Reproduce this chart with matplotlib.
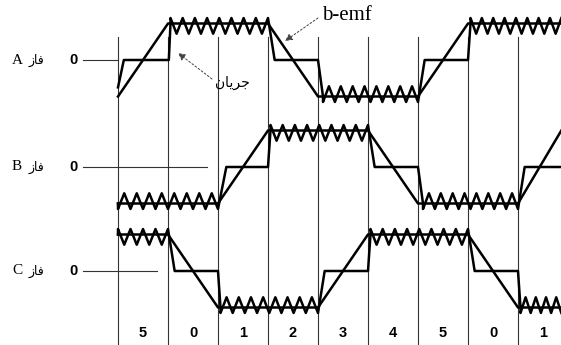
import numpy as np
import matplotlib.pyplot as plt

# electrical angle (deg) of each breakpoint, level in units of the plateau height
emf_a_ang = [0, 60, 180, 240, 360, 420, 532]
emf_a_lev = [-1, 1, 1, -1, -1, 1, 1]
emf_b_ang = [0, 120, 180, 300, 360, 480, 532]
emf_b_lev = [-1, -1, 1, 1, -1, -1, 1]
emf_c_ang = [0, 60, 120, 240, 300, 420, 480, 532]
emf_c_lev = [1, 1, -1, -1, 1, 1, -1, -1]

cur_a_ang = [0, 7, 61, 63, 180, 188, 240, 246, 360, 368, 420, 423, 532]
cur_a_lev = [-0.75, 0, 0, 1, 1, 0, 0, -1, -1, 0, 0, 1, 1]
cur_b_ang = [0, 120, 130, 180, 183, 300, 308, 360, 366, 480, 488, 532]
cur_b_lev = [-1, -1, 0, 0, 1, 1, 0, 0, -1, -1, 0, 0]
cur_c_ang = [0, 60, 68, 120, 123, 240, 248, 300, 303, 420, 428, 480, 483, 532]
cur_c_lev = [1, 1, 0, 0, -1, -1, 0, 0, 1, 1, 0, 0, -1, -1]

sectors = ['5', '0', '1', '2', '3', '4', '5', '0', '1']
sector_edges = [0, 60, 120, 180, 240, 300, 360, 420, 480]

# ripple of the chopped current on the flat parts
rip_out = 0.15
rip_in = 0.28
rip_step = 7.5

# vertical placement (rows from the top) and height of each trace
zero_a, zero_b, zero_c = 60, 167, 271
amp = 36.5


def with_ripple(ang, lev):
    xs, ys = [ang[0]], [lev[0]]
    for i in range(1, len(ang)):
        a, b, L = ang[i-1], ang[i], lev[i]
        if lev[i-1] == L and abs(L) == 1:
            n = int(round((b - a) / rip_step))
            n += n % 2
            pts = np.linspace(a, b, n + 1)
            for k, p in enumerate(pts):
                xs.append(p)
                ys.append(L * (1 + rip_out) if k % 2 == 0 else L * (1 - rip_in))
        else:
            xs.append(b)
            ys.append(L)
    return np.array(xs), np.array(ys)


def px(x):
    # horizontal pixel position -> electrical angle
    return (x - 118) * 1.2


fig = plt.figure(figsize=(5.61, 3.45), dpi=100)
ax = fig.add_axes([0, 0, 1, 1])
ax.set_xlim(px(0), px(561))
ax.set_ylim(345, 0)
ax.axis('off')

for e in sector_edges:
    ax.plot([e, e], [37, 345], color='#333333', lw=0.8)

for z, ang, lev, cang, clev in [(zero_a, emf_a_ang, emf_a_lev, cur_a_ang, cur_a_lev),
                                (zero_b, emf_b_ang, emf_b_lev, cur_b_ang, cur_b_lev),
                                (zero_c, emf_c_ang, emf_c_lev, cur_c_ang, cur_c_lev)]:
    ax.plot(ang, z - amp * np.array(lev), color='black', lw=1.8, clip_on=True)
    cx, cy = with_ripple(cang, clev)
    ax.plot(cx, z - amp * cy, color='black', lw=1.8, clip_on=True)

# zero references and phase names
fa = '\uFEAF\uFE8E\uFED3'
for z, ph, end in [(zero_a, 'A', 118), (zero_b, 'B', 207), (zero_c, 'C', 157)]:
    ax.plot([px(83), px(end)], [z, z], color='#333333', lw=0.8)
    ax.text(px(73), z, '0', ha='center', va='center', fontsize=10.5,
            fontweight='bold', family='Liberation Sans')
    ax.text(px(12), z, ph, ha='left', va='center', fontsize=11,
            family='Liberation Serif')
    ax.text(px(29), z, fa, ha='left', va='center', fontsize=9,
            family='DejaVu Sans')

for e, s in zip(sector_edges, sectors):
    ax.text(e + 30, 333, s, ha='center', va='center', fontsize=10.5,
            fontweight='bold', family='Liberation Sans')

arrow = dict(arrowstyle='-|>', linestyle=(0, (2, 2)), lw=0.7, color='#444444',
             mutation_scale=11, shrinkA=0, shrinkB=0)
ax.annotate('', xy=(px(285), 41), xytext=(px(318), 18), arrowprops=arrow)
ax.text(px(347), 15, 'b-emf', ha='center', va='center', fontsize=15,
        family='Liberation Serif')

ax.annotate('', xy=(px(178), 53), xytext=(px(212), 79), arrowprops=arrow)
ax.text(px(232), 83, '\uFEE5\uFE8E\uFEF3\uFEAE\uFE9F', ha='center', va='center',
        fontsize=10, family='DejaVu Sans')

fig.savefig('out.png', dpi=100)
